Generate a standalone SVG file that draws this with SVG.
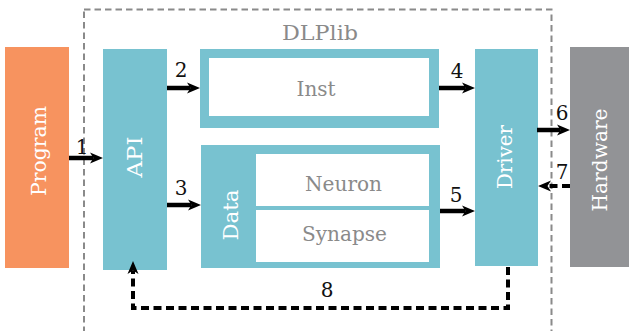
<svg xmlns="http://www.w3.org/2000/svg" width="629" height="331" viewBox="0 0 629 331">
<style>
.teal{fill:#78C2D0}
.wt{fill:#fff}
.lbl{font-family:'DejaVu Serif','Liberation Serif',serif;font-size:20px;text-anchor:middle}
.inv{fill:#fff}
.gr{fill:#8a8a8a}
.num{fill:#111}
.arr{stroke:#000;stroke-width:4.5;fill:none;marker-end:url(#ah)}
.dash{stroke:#000;stroke-width:4;fill:none;stroke-dasharray:8,4.5;marker-end:url(#ah)}
</style>
<defs>
<marker id="ah" markerUnits="userSpaceOnUse" viewBox="-1 -7 16 14" markerWidth="16" markerHeight="14" refX="3.5" refY="0" orient="auto">
<path d="M0,-5.5 L13,0 L0,5.5 L3.5,0 Z" fill="#000"/>
</marker>
</defs>
<rect x="84" y="9.5" width="467.5" height="340" fill="none" stroke="#8a8a8a" stroke-width="2" stroke-dasharray="6.5,4"/>
<text class="lbl gr" x="320" y="40" textLength="76" lengthAdjust="spacingAndGlyphs">DLPlib</text>
<g id="program">
<rect x="5" y="47" width="64" height="221" fill="#F7935F"/>
<text class="lbl inv" transform="translate(46,151) rotate(-90)" textLength="90" lengthAdjust="spacingAndGlyphs">Program</text>
</g>
<g id="api">
<rect class="teal" x="103" y="49" width="64" height="221"/>
<text class="lbl inv" transform="translate(142,157) rotate(-90)" textLength="41" lengthAdjust="spacingAndGlyphs">API</text>
</g>
<g id="inst">
<rect class="teal" x="200" y="49" width="239" height="79"/>
<rect class="wt" x="209" y="58" width="220" height="58"/>
<text class="lbl gr" x="316" y="96" textLength="39" lengthAdjust="spacingAndGlyphs">Inst</text>
</g>
<g id="data">
<rect class="teal" x="201" y="145" width="239" height="123"/>
<text class="lbl inv" transform="translate(238,215) rotate(-90)" textLength="51" lengthAdjust="spacingAndGlyphs">Data</text>
</g>
<g id="neuron">
<rect class="wt" x="256" y="154" width="173" height="52"/>
<text class="lbl gr" x="343.5" y="191" textLength="77" lengthAdjust="spacingAndGlyphs">Neuron</text>
</g>
<g id="synapse">
<rect class="wt" x="256" y="210" width="173" height="52"/>
<text class="lbl gr" x="344.5" y="241" textLength="85" lengthAdjust="spacingAndGlyphs">Synapse</text>
</g>
<g id="driver">
<rect class="teal" x="475" y="49" width="63" height="217"/>
<text class="lbl inv" transform="translate(512,157) rotate(-90)" textLength="64" lengthAdjust="spacingAndGlyphs">Driver</text>
</g>
<g id="hardware">
<rect x="570" y="47" width="59" height="220" fill="#929396"/>
<text class="lbl inv" transform="translate(607,160) rotate(-90)" textLength="103" lengthAdjust="spacingAndGlyphs">Hardware</text>
</g>
<g id="connectors">
<line class="arr" x1="69" y1="158" x2="93.5" y2="158"/>
<text class="lbl num" x="82" y="154">1</text>
<line class="arr" x1="167" y1="88" x2="190.5" y2="88"/>
<text class="lbl num" x="181" y="77">2</text>
<line class="arr" x1="167" y1="205" x2="191.5" y2="205"/>
<text class="lbl num" x="181" y="195">3</text>
<line class="arr" x1="439" y1="88" x2="465.5" y2="88"/>
<text class="lbl num" x="457" y="78">4</text>
<line class="arr" x1="440" y1="211" x2="465.5" y2="211"/>
<text class="lbl num" x="456" y="202">5</text>
<line class="arr" x1="537" y1="130" x2="560.5" y2="130"/>
<text class="lbl num" x="562" y="120">6</text>
<line class="dash" x1="570" y1="186" x2="547.5" y2="186"/>
<text class="lbl num" x="562" y="179">7</text>
<path class="dash" d="M508,267 V308 H133 V270.5"/>
<text class="lbl num" x="327" y="297">8</text>
</g>
</svg>
